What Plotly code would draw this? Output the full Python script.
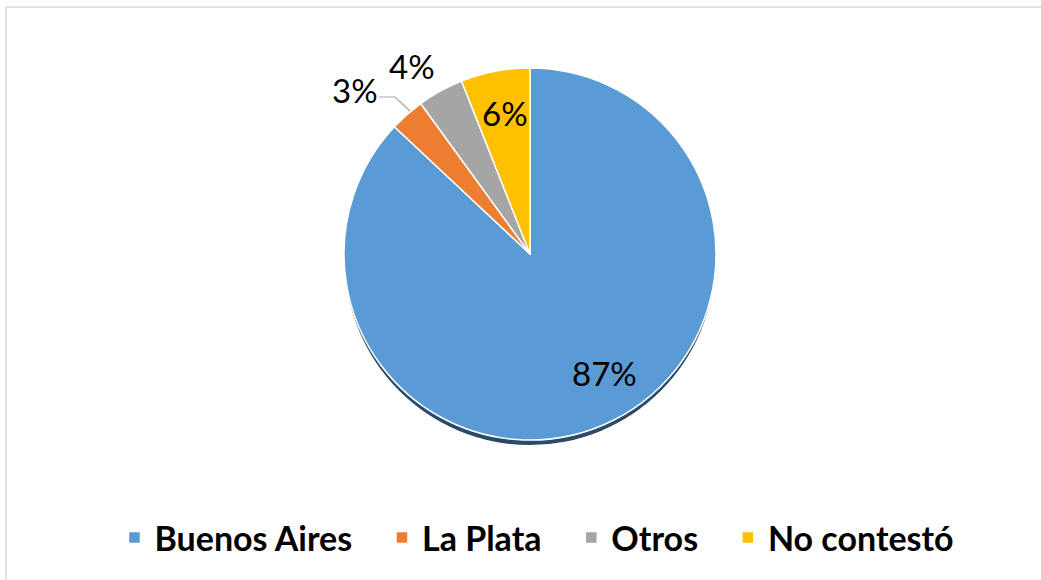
import plotly.graph_objects as go

categories = ["Buenos Aires", "La Plata", "Otros", "No contestó"]
values = [87, 3, 4, 6]
colors = ["#5B9BD5", "#ED7D31", "#A5A5A5", "#FFC000"]

W, H = 1041, 580
FONT = "Lato, Open Sans, sans-serif"
total = sum(values)
pct = [f"{round(100 * v / total)}%" for v in values]

# legend labels padded with non-breaking spaces for wider spacing (not the last)
legend_labels = [c + ("\u00a0" * 3 if i < len(categories) - 1 else "")
                 for i, c in enumerate(categories)]

cx, cy, r = 530, 254, 186

fig = go.Figure()
# subtle shadow beneath the pie
fig.add_trace(go.Pie(
    labels=["shadow"], values=[1], sort=False, showlegend=False,
    marker=dict(colors=["#2A4A68"], line=dict(width=0)),
    textinfo="none", hoverinfo="skip",
    domain=dict(x=[(cx - r + 1) / W, (cx + r - 1) / W],
                y=[1 - (cy + r + 5) / H, 1 - (cy - r + 7) / H]),
))
fig.add_trace(go.Pie(
    labels=legend_labels,
    values=values,
    sort=False,
    direction="clockwise",
    rotation=0,
    marker=dict(colors=colors, line=dict(color="white", width=1.5)),
    textinfo="none",
    domain=dict(x=[(cx - r) / W, (cx + r) / W], y=[1 - (cy + r) / H, 1 - (cy - r) / H]),
    hovertemplate="%{label}: %{percent}<extra></extra>",
))

# data labels
label_pos = {0: (604, 373), 1: (355, 90), 2: (412, 66), 3: (505, 113)}
annotations = []
for i, (x, y) in label_pos.items():
    annotations.append(dict(
        x=x / W, y=1 - y / H, xref="paper", yref="paper",
        text=pct[i], showarrow=False, xanchor="center", yanchor="middle",
        font=dict(family=FONT, size=33, color="black"),
    ))

fig.update_layout(
    width=W, height=H,
    margin=dict(l=0, r=0, t=0, b=0),
    paper_bgcolor="white",
    showlegend=True,
    legend=dict(
        orientation="h",
        x=537 / W, xanchor="center",
        y=1 - 538 / H, yanchor="middle",
        font=dict(family=FONT, size=34, color="black", weight="bold"),
        traceorder="normal",
    ),
    annotations=annotations,
    shapes=[
        dict(type="rect", xref="paper", yref="paper",
             x0=6 / W, x1=1.01, y0=-0.01, y1=1 - 7 / H,
             line=dict(color="#D9D9D9", width=1.5), fillcolor="rgba(0,0,0,0)"),
        dict(type="path", xref="paper", yref="paper",
             path=f"M {379 / W} {1 - 97 / H} L {395 / W} {1 - 97 / H} L {410 / W} {1 - 111 / H}",
             line=dict(color="#A5A5A5", width=1.2)),
    ],
)

fig.write_html("out.html", config={"displayModeBar": False},
               post_script="document.body.style.margin='0';")
